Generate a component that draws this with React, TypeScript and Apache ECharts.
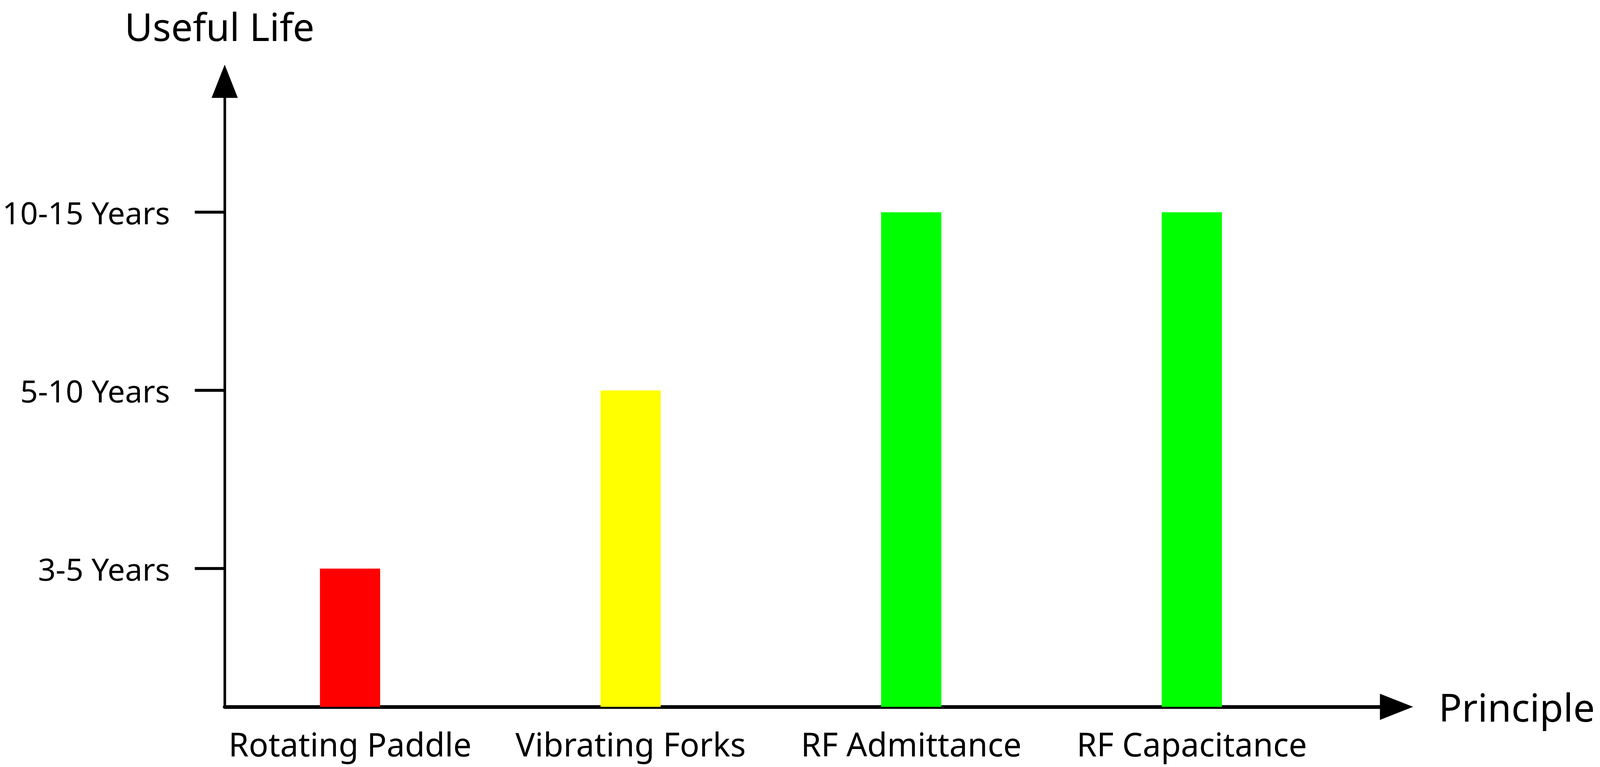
import React, { useEffect, useRef } from 'react';
import * as echarts from 'echarts';

const categories = ['Rotating Paddle', 'Vibrating Forks', 'RF Admittance', 'RF Capacitance'];
const lifeLevels = [1, 2, 3, 3];
const barColors = ['#ff0000', '#ffff00', '#00ff00', '#00ff00'];
const yearLevels = [1, 2, 3];
const yearLabels = ['3-5 Years', '5-10 Years', '10-15 Years'];

const FONT = 'Noto Sans';
// reference canvas size, all layout numbers below are in these pixels
const REF_W = 4333;
const REF_H = 1963;

const App: React.FC = () => {
  const chartRef = useRef<HTMLDivElement>(null);

  useEffect(() => {
    if (!chartRef.current) return;
    document.body.style.margin = '0';
    document.body.style.overflow = 'hidden';

    const chart = echarts.init(chartRef.current, undefined, { renderer: 'svg' });
    const W = chartRef.current.clientWidth || REF_W;
    const H = chartRef.current.clientHeight || REF_H;
    const sx = W / REF_W;
    const sy = H / REF_H;
    const s = Math.min(sx, sy);

    const option: echarts.EChartsOption = {
      animation: false,
      backgroundColor: '#fff',
      grid: {
        left: 608.5 * sx,
        top: 208 * sy,
        right: 551 * sx,
        bottom: 154 * sy,
        containLabel: false,
        outerBoundsMode: 'none'
      } as any,
      xAxis: {
        type: 'value',
        min: -0.4467,
        max: 3.7296,
        name: 'Principle',
        nameLocation: 'end',
        nameGap: 114 * sx,
        nameTextStyle: { color: '#000', fontFamily: FONT, fontSize: 104 * s },
        splitLine: { show: false },
        axisTick: { show: false },
        axisLine: {
          onZero: false,
          lineStyle: { color: '#000', width: 10 * s },
          symbol: ['none', 'triangle'],
          symbolSize: [71 * s, 90 * s]
        },
        axisLabel: {
          customValues: [0, 1, 2, 3],
          formatter: (v: number) => categories[Math.round(v)] ?? '',
          color: '#000',
          fontFamily: FONT,
          fontSize: 88 * s,
          margin: 53 * sy
        }
      } as any,
      yAxis: {
        type: 'value',
        min: 0.224,
        max: 3.735,
        name: 'Useful Life',
        nameLocation: 'end',
        nameGap: 92 * sy,
        nameTextStyle: {
          color: '#000',
          fontFamily: FONT,
          fontSize: 104 * s,
          padding: [0, 28 * s, 0, 0]
        },
        splitLine: { show: false },
        axisLine: {
          onZero: false,
          lineStyle: { color: '#000', width: 7 * s },
          symbol: ['none', 'triangle'],
          symbolSize: [71 * s, 90 * s]
        },
        axisTick: {
          customValues: yearLevels,
          length: 81 * sx,
          lineStyle: { color: '#000', width: 8 * s }
        },
        axisLabel: {
          customValues: yearLevels,
          formatter: (v: number) => yearLabels[Math.round(v) - 1] ?? '',
          color: '#000',
          fontFamily: FONT,
          fontSize: 84 * s,
          margin: 148 * sx
        }
      } as any,
      series: [
        {
          type: 'bar',
          barWidth: 163 * sx,
          clip: true,
          data: lifeLevels.map((v, i) => ({
            value: [i, v],
            itemStyle: { color: barColors[i] }
          }))
        }
      ]
    };

    chart.setOption(option);
    return () => chart.dispose();
  }, []);

  return (
    <div
      ref={chartRef}
      style={{ position: 'fixed', left: 0, top: 0, width: '100vw', height: '100vh' }}
    />
  );
};

export default App;
